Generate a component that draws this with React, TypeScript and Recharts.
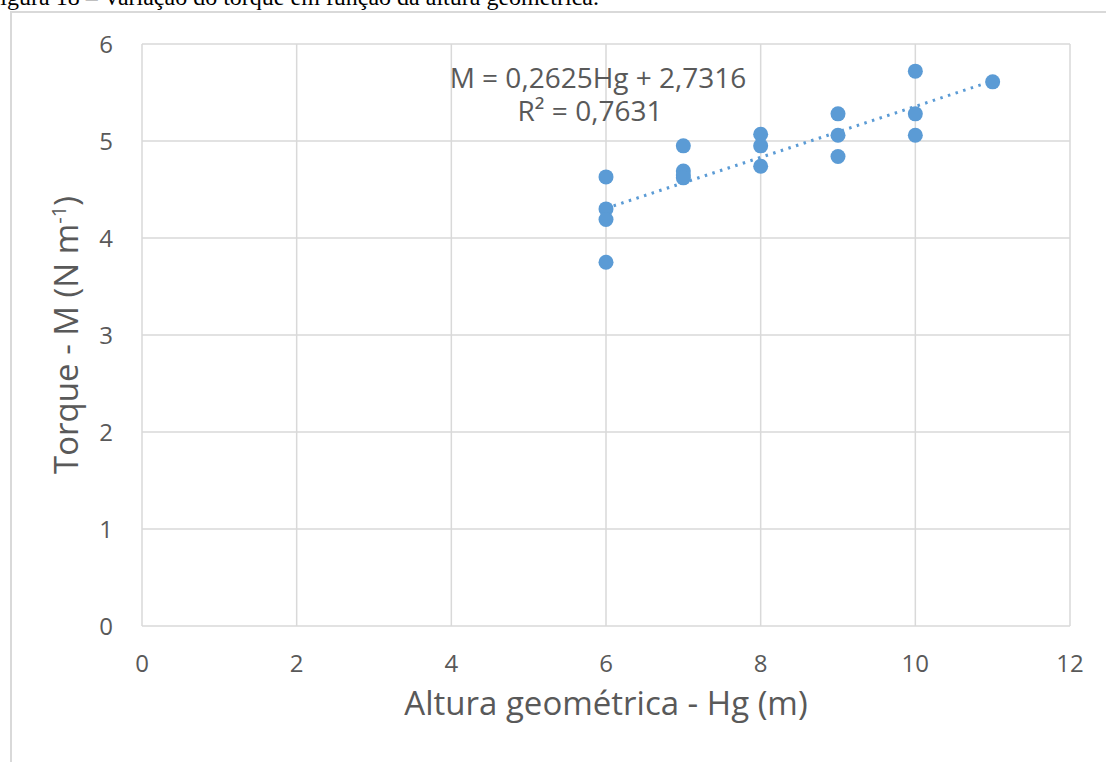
import React from "react";
import { ScatterChart, Scatter, XAxis, YAxis, CartesianGrid, ReferenceLine } from "recharts";

// measured points (Hg in m, torque in N m-1)
const hgValues = [6, 6, 6, 6, 7, 7, 7, 7, 8, 8, 8, 9, 9, 9, 10, 10, 10, 11];
const torqueValues = [4.63, 4.3, 4.19, 3.75, 4.95, 4.69, 4.65, 4.62, 5.07, 4.95, 4.74, 5.28, 5.06, 4.84, 5.72, 5.28, 5.06, 5.61];

// linear trendline end points
const trendX = [6, 11];
const trendY = [4.306, 5.619];

const xTicks = [0, 2, 4, 6, 8, 10, 12];
const yTicks = [0, 1, 2, 3, 4, 5, 6];

const caption = "Figura 18 – Variação do torque em função da altura geométrica.";
const equation = "M = 0,2625Hg + 2,7316";
const rSquared = "R² = 0,7631";
const xTitle = "Altura geométrica - Hg (m)";

const points = hgValues.map((hg, i) => ({ hg, torque: torqueValues[i] }));
const blue = "#5b9bd5";
const grey = "#595959";
const font = "'Open Sans', sans-serif";

const YTitle = (props: any) => {
  const vb = props.viewBox;
  const cx = vb.x + 16;
  const cy = vb.y + vb.height / 2;
  return (
    <text
      x={cx}
      y={cy}
      transform={`rotate(-90 ${cx} ${cy})`}
      textAnchor="middle"
      fill={grey}
      fontSize={33}
      fontFamily={font}
    >
      Torque - M (N m
      <tspan dy={-12} fontSize={20}>-1</tspan>
      <tspan dy={12}>)</tspan>
    </text>
  );
};

export default function App() {
  return (
    <div style={{ position: "absolute", left: 0, top: 0, width: 1106, height: 762, overflow: "hidden", background: "#fff" }}>
      <div
        style={{
          position: "absolute",
          left: -13,
          top: -15,
          fontFamily: "'Liberation Serif', serif",
          fontSize: 24,
          lineHeight: 1,
          whiteSpace: "nowrap",
          color: "#000",
        }}
      >
        {caption}
      </div>
      <div
        style={{
          position: "absolute",
          left: 10,
          top: 11,
          width: 1200,
          height: 800,
          borderLeft: "2px solid #d9d9d9",
          borderTop: "2px solid #d9d9d9",
        }}
      />
      <div style={{ position: "absolute", left: 0, top: 0 }}>
        <ScatterChart width={1106} height={762} margin={{ top: 44, right: 36, left: 62, bottom: 26 }}>
          <CartesianGrid stroke="#d9d9d9" strokeWidth={1.5} />
          <XAxis
            type="number"
            dataKey="hg"
            domain={[0, 12]}
            ticks={xTicks}
            axisLine={false}
            tickLine={false}
            tickSize={0}
            tickMargin={29}
            height={110}
            tick={{ fill: grey, fontSize: 24, fontFamily: font }}
            label={{ value: xTitle, position: "insideBottom", offset: 21, fill: grey, fontSize: 33, fontFamily: font }}
          />
          <YAxis
            type="number"
            dataKey="torque"
            domain={[0, 6]}
            ticks={yTicks}
            axisLine={false}
            tickLine={false}
            tickSize={0}
            tickMargin={29}
            width={80}
            tick={{ fill: grey, fontSize: 24, fontFamily: font }}
            label={<YTitle />}
          />
          <ReferenceLine
            segment={[
              { x: trendX[0], y: trendY[0] },
              { x: trendX[1], y: trendY[1] },
            ]}
            stroke={blue}
            strokeWidth={3}
            strokeDasharray="2.5 5.5"
            ifOverflow="visible"
          />
          <Scatter data={points} fill={blue} isAnimationActive={false} shape={(p: any) => <circle cx={p.cx} cy={p.cy} r={7.5} fill={blue} />} />
        </ScatterChart>
      </div>
      <div style={{ position: "absolute", left: 598, top: 63, transform: "translateX(-50%)", fontFamily: font, fontSize: 28, color: grey, whiteSpace: "nowrap", lineHeight: 1 }}>
        {equation}
      </div>
      <div style={{ position: "absolute", left: 590, top: 96, transform: "translateX(-50%)", fontFamily: font, fontSize: 28, color: grey, whiteSpace: "nowrap", lineHeight: 1 }}>
        {rSquared}
      </div>
    </div>
  );
}
